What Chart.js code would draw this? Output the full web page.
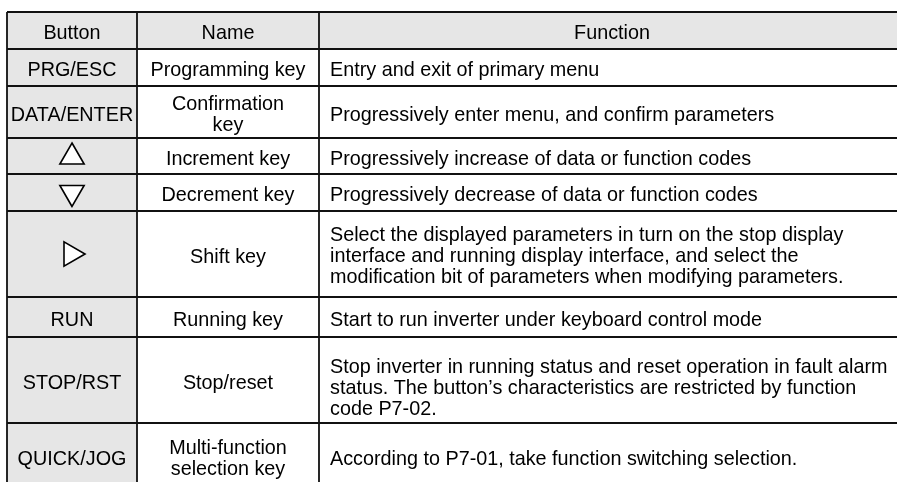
<!DOCTYPE html>
<html>
<head>
<meta charset="utf-8">
<script src="https://cdn.jsdelivr.net/npm/chart.js@4.4.1/dist/chart.umd.min.js"></script>
<style>
    html, body { margin: 0; padding: 0; background: #fff; }
    #wrap { width: 897px; height: 482px; }
</style>
</head>
<body>
<div id="wrap"><canvas id="keyTable"></canvas></div>
<script>
// table content
var headers = ["Button", "Name", "Function"];
var buttons = ["PRG/ESC", "DATA/ENTER", "", "", "", "RUN", "STOP/RST", "QUICK/JOG"];
// triangle keys: rotation of the symbol, null = text button
var buttonSymbols = [null, null, 0, 180, 90, null, null, null];
var names = [
    ["Programming key"],
    ["Confirmation", "key"],
    ["Increment key"],
    ["Decrement key"],
    ["Shift key"],
    ["Running key"],
    ["Stop/reset"],
    ["Multi-function", "selection key"]
];
var functions = [
    ["Entry and exit of primary menu"],
    ["Progressively enter menu, and confirm parameters"],
    ["Progressively increase of data or function codes"],
    ["Progressively decrease of data or function codes"],
    ["Select the displayed parameters in turn on the stop display",
     "interface and running display interface, and select the",
     "modification bit of parameters when modifying parameters."],
    ["Start to run inverter under keyboard control mode"],
    ["Stop inverter in running status and reset operation in fault alarm",
     "status. The button\u2019s characteristics are restricted by function",
     "code P7-02."],
    ["According to P7-01, take function switching selection."]
];

// layout (table units = px)
var colEdges = [7, 137, 319, 905];
var rowEdges = [12, 49, 86, 138, 174, 211, 297, 337, 423, 492];
// small vertical nudges for the function text per body row
var funcShift = [0, 0, 0, 0, -1, 0, 5, 0];
var fontSize = 19.8;
var lineGap = 21;
var grayFill = "#e6e6e6";
var lineColor = "#111";

function cellMid(a, b) { return (a + b) / 2; }

// triangle markers sit in the centre of their button cells
var symbolPoints = [];
var symbolRotation = [];
buttonSymbols.forEach(function(rot, i) {
    if (rot === null) return;
    var cy = cellMid(rowEdges[i + 1], rowEdges[i + 2]);
    var cx = cellMid(colEdges[0], colEdges[1]);
    if (rot === 90) { cx -= 1; }
    if (rot === 0) { cy += 1; }
    symbolPoints.push({x: cx, y: cy});
    symbolRotation.push(rot);
});

var tablePlugin = {
    id: "tablePlugin",
    beforeDatasetsDraw: function(chart) {
        var ctx = chart.ctx;
        var xs = chart.scales.x, ys = chart.scales.y;
        var px = function(v) { return xs.getPixelForValue(v); };
        var py = function(v) { return ys.getPixelForValue(v); };
        var nRows = rowEdges.length - 1;

        ctx.save();
        // gray fills: header row and button column
        ctx.fillStyle = grayFill;
        ctx.fillRect(px(colEdges[0]), py(rowEdges[0]), px(colEdges[3]) - px(colEdges[0]), py(rowEdges[1]) - py(rowEdges[0]));
        ctx.fillRect(px(colEdges[0]), py(rowEdges[1]), px(colEdges[1]) - px(colEdges[0]), py(rowEdges[nRows]) - py(rowEdges[1]));

        // grid lines
        ctx.strokeStyle = lineColor;
        ctx.lineWidth = 1.8;
        ctx.beginPath();
        for (var r = 0; r < nRows; r++) {
            ctx.moveTo(px(colEdges[0]), py(rowEdges[r]));
            ctx.lineTo(px(colEdges[3]), py(rowEdges[r]));
        }
        colEdges.forEach(function(c) {
            ctx.moveTo(px(c), py(rowEdges[0]));
            ctx.lineTo(px(c), py(rowEdges[nRows]));
        });
        ctx.stroke();

        // text
        ctx.fillStyle = "#000";
        ctx.font = fontSize + "px 'Liberation Sans', Arial, sans-serif";
        ctx.textBaseline = "alphabetic";
        function drawLines(lines, col, row, align, shift) {
            var top = py(rowEdges[row]), bottom = py(rowEdges[row + 1]);
            var mid = (top + bottom) / 2;
            if (row === nRows - 1) { mid = py(rowEdges[row]) + 33; }
            mid += shift || 0;
            var first = mid - (lines.length - 1) * lineGap / 2;
            var x;
            if (align === "center") {
                x = (px(colEdges[col]) + px(colEdges[col + 1])) / 2;
            } else {
                x = px(colEdges[col]) + 11;
            }
            ctx.textAlign = align;
            lines.forEach(function(t, k) {
                ctx.fillText(t, x, first + k * lineGap + fontSize * 0.36 + 1.5);
            });
        }
        headers.forEach(function(h, c) { drawLines([h], c, 0, "center"); });
        for (var i = 0; i < buttons.length; i++) {
            if (buttons[i]) drawLines([buttons[i]], 0, i + 1, "center");
            drawLines(names[i], 1, i + 1, "center");
            drawLines(functions[i], 2, i + 1, "left", funcShift[i]);
        }
        ctx.restore();
    }
};

new Chart("keyTable", {
    type: "scatter",
    data: {
        datasets: [{
            data: symbolPoints,
            pointStyle: "triangle",
            pointRadius: 14,
            pointRotation: symbolRotation,
            pointBorderWidth: 1.6,
            pointBorderColor: "#000",
            pointBackgroundColor: "#fff"
        }]
    },
    options: {
        responsive: true,
        maintainAspectRatio: false,
        animation: false,
        events: [],
        layout: { padding: 0, autoPadding: false },
        scales: {
            x: { type: "linear", min: 0, max: 897, display: false },
            y: { type: "linear", min: 0, max: 482, reverse: true, display: false }
        },
        plugins: {
            legend: { display: false },
            tooltip: { enabled: false }
        }
    },
    plugins: [tablePlugin]
});
</script>
</body>
</html>
